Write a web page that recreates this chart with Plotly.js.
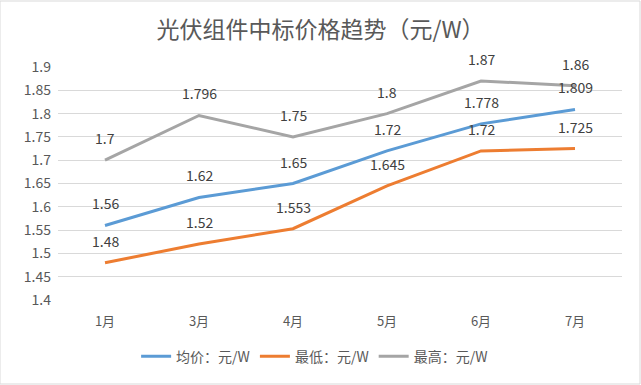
<!DOCTYPE html>
<html><head><meta charset="utf-8">
<script src="https://cdn.plot.ly/plotly-3.0.1.min.js"></script>
<style>html,body{margin:0;padding:0;background:#fff;}#chart{width:641px;height:385px;}</style>
</head><body><div id="chart"></div>
<script>
const months = ['1月','3月','4月','5月','6月','7月'];
const avgPrice = [1.56, 1.62, 1.65, 1.72, 1.778, 1.809];
const minPrice = [1.48, 1.52, 1.553, 1.645, 1.72, 1.725];
const maxPrice = [1.7, 1.796, 1.75, 1.8, 1.87, 1.86];
const seriesNames = ['均价：元/W', '最低：元/W', '最高：元/W'];
const colors = ['#5B9BD5', '#ED7D31', '#A5A5A5'];
const allSeries = [avgPrice, minPrice, maxPrice];

const font = '"Noto Sans CJK SC", "Noto Sans", sans-serif';
const traces = allSeries.map((vals, i) => ({
  x: months, y: vals, type: 'scatter', mode: 'lines', name: seriesNames[i],
  line: {color: colors[i], width: 3}, hoverinfo: 'skip'
}));

const annotations = [];
allSeries.forEach(vals => vals.forEach((v, j) => {
  annotations.push({x: months[j], y: v, xref: 'x', yref: 'y', text: String(v),
    showarrow: false, yshift: 22, font: {family: font, size: 14, color: '#404040'}});
}));

const layout = {
  width: 641, height: 385,
  margin: {l: 58, r: 19, t: 67, b: 85, autoexpand: false},
  paper_bgcolor: '#fff', plot_bgcolor: '#fff',
  title: {text: '光伏组件中标价格趋势（元/W）', x: 0.5, xanchor: 'center', y: 0.922, yanchor: 'middle',
    font: {family: font, size: 23, color: '#595959'}},
  xaxis: {type: 'category', showgrid: false, zeroline: false, showline: false, ticks: '',
    ticklabelstandoff: 12, automargin: false,
    tickfont: {family: font, size: 13, color: '#595959'}, range: [-0.5, 5.5]},
  yaxis: {range: [1.4, 1.9], dtick: 0.05, tick0: 1.4, showgrid: true, gridcolor: '#D9D9D9', gridwidth: 1,
    zeroline: false, showline: false, ticks: '', ticklen: 0, ticklabelstandoff: 6, automargin: false,
    tickfont: {family: font, size: 14, color: '#595959'}},
  showlegend: true,
  legend: {orientation: 'h', x: 0.455, xanchor: 'center', y: -0.175, yanchor: 'top',
    font: {family: font, size: 14, color: '#595959'}, itemwidth: 30, tracegroupgap: 0},
  annotations: annotations,
  shapes: [{type: 'rect', xref: 'paper', yref: 'paper', x0: -58/564, x1: 1 + 18/564, y0: -84/233, y1: 1 + 66/233,
    line: {color: '#D9D9D9', width: 1}}]
};
Plotly.newPlot('chart', traces, layout, {displayModeBar: false, staticPlot: true});
</script></body></html>
